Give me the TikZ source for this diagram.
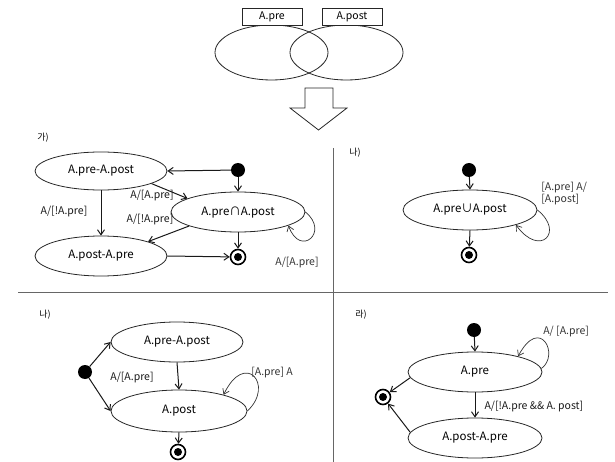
\documentclass[tikz,border=0pt]{standalone}
\usepackage{fontspec}
\setmainfont{Noto Sans CJK KR}
\usetikzlibrary{shapes.geometric,arrows.meta}
\begin{document}
\begin{tikzpicture}[x=1pt,y=-1pt,
  state/.style={draw=black!85,ellipse,inner sep=0pt,line width=0.8pt,
    font=\fontsize{11.5}{13}\selectfont},
  initdot/.style={circle,fill=black,minimum size=14pt,inner sep=0pt},
  finaldot/.style={circle,draw=black,line width=1.6pt,minimum size=15pt,inner sep=0pt,
    path picture={\fill[black] (path picture bounding box.center) circle (4pt);}},
  arr/.style={-{Straight Barb[length=5pt,width=7pt]},line width=1pt,black!90},
  loopline/.style={-{Straight Barb[length=5pt,width=7pt]},line width=0.7pt,black!80},
  lbl/.style={inner sep=0pt,font=\fontsize{10.5}{12}\selectfont},
  tag/.style={inner sep=0pt,font=\fontsize{9}{10}\selectfont},
  setbox/.style={draw=black!85,fill=white,line width=0.8pt,minimum width=60pt,
    minimum height=17pt,inner sep=0pt,font=\fontsize{10.5}{12}\selectfont},
  divider/.style={line width=0.9pt,black!60}]
\useasboundingbox (0,0) rectangle (615,462);

% ---- Venn diagram of the two conditions ----
\draw[line width=0.8pt,black!85] (271.5,52.5) ellipse [x radius=56.5, y radius=27.5];
\draw[line width=0.8pt,black!85] (346.5,52.5) ellipse [x radius=56.5, y radius=27.5];
\node[setbox] (pre)  at (272,16.5) {A.pre};
\node[setbox] (post) at (352,16.5) {A.post};

% block arrow
\draw[line width=0.8pt,black!85,fill=white]
  (305,88) -- (333,88) -- (333,108) -- (347,108) -- (318.5,130)
  -- (290,108) -- (305,108) -- cycle;

% ---- panel dividers ----
\draw[divider] (18,292) -- (608,292);
\draw[divider] (333,148) -- (333,462);

% ---- panel (ga) ----
\node[tag] (tga) at (43,138) {가)};
\node[state,minimum width=132pt,minimum height=38pt] (a1) at (101,171) {A.pre-A.post};
\node[state,minimum width=134pt,minimum height=40pt] (a2) at (238,212) {A.pre∩A.post};
\node[state,minimum width=132pt,minimum height=40pt] (a3) at (101,256) {A.post-A.pre};
\node[initdot]  (ai) at (238,170) {};
\node[finaldot] (af) at (238,257) {};
\draw[arr] (ai) -- (a1.east);
\draw[arr] (ai) -- (a2.north);
\draw[arr] (a1.-14) -- (a2.165) node[lbl] at (152,196) {A/[A.pre]};
\draw[arr] (a1.south) -- (a3.north) node[lbl] at (64,212) {A/[!A.pre]};
\draw[arr] (a2.196) -- (a3.17) node[lbl] at (150,220) {A/[!A.pre]};
\draw[arr] (a3.east) -- (af);
\draw[arr] (a2.south) -- (af);
\draw[loopline] (a2.east) .. controls (330,232) and (300,258) .. (a2.-15)
  node[lbl] at (297,263) {A/[A.pre]};

% ---- panel (na), top right ----
\node[tag] (tna) at (355,153) {나)};
\node[initdot]  (bi) at (469,170) {};
\node[state,minimum width=134pt,minimum height=40pt] (b1) at (470,210) {A.pre∪A.post};
\node[finaldot] (bf) at (469,255) {};
\draw[arr] (bi) -- (b1.north);
\draw[arr] (b1.south) -- (bf);
\draw[loopline] (b1.east) .. controls (565,232) and (540,258) .. (b1.-18)
  node[lbl,anchor=west,align=left] at (541,194) {[A.pre] A/\\{}[A.post]};

% ---- panel (na), bottom left ----
\node[tag] (tda) at (45,315) {나)};
\node[state,minimum width=132pt,minimum height=40pt] (c1) at (177,342) {A.pre-A.post};
\node[state,minimum width=136pt,minimum height=42pt] (c2) at (179,411) {A.post};
\node[initdot]  (ci) at (85,372) {};
\node[finaldot] (cf) at (178,452) {};
\draw[arr] (ci) -- (c1.west);
\draw[arr] (ci) -- (c2.west);
\draw[arr] (c1.south) -- (c2.north) node[lbl] at (132,378) {A/[A.pre]};
\draw[arr] (c2.south) -- (cf);
\draw[loopline] (c2.east) .. controls (275,385) and (245,350) .. (c2.20)
  node[lbl,anchor=west] at (251,373) {[A.pre] A};

% ---- panel (ra) ----
\node[tag] (tra) at (361,315) {라)};
\node[initdot]  (di) at (474,330) {};
\node[state,minimum width=134pt,minimum height=40pt] (d1) at (475,372) {A.pre};
\node[state,minimum width=134pt,minimum height=40pt] (d2) at (475,438) {A.post-A.pre};
\node[finaldot] (df) at (383,397) {};
\draw[arr] (di) -- (d1.north);
\draw[arr] (d1.185) -- (df);
\draw[arr] (d2.175) -- (df);
\draw[arr] (d1.south) -- (d2.north)
  node[lbl,anchor=west] at (484,407) {A/[!A.pre \&\& A. post]};
\draw[loopline] (d1.3) .. controls (560,355) and (540,315) .. (d1.20)
  node[lbl,anchor=west] at (543,332) {A/ [A.pre]};
\end{tikzpicture}
\end{document}
